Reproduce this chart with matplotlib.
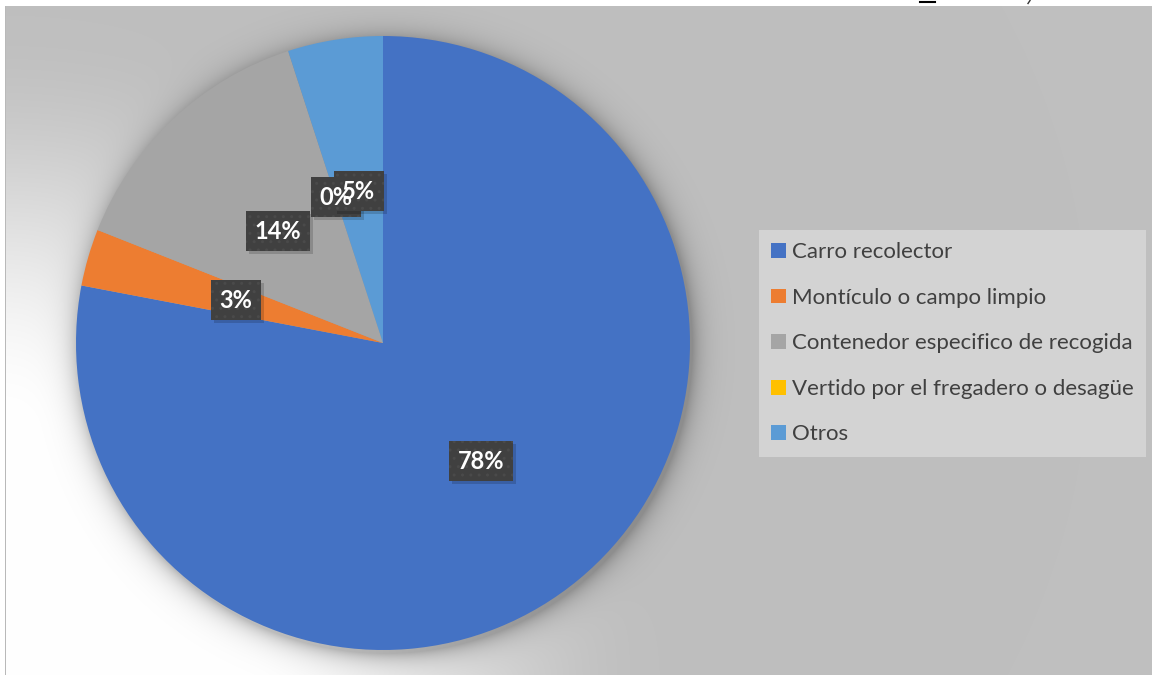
import numpy as np
import matplotlib.pyplot as plt
from matplotlib.lines import Line2D
from matplotlib.patches import Rectangle

# Destino de los residuos
categorias = ["Carro recolector", "Montículo o campo limpio",
              "Contenedor especifico de recogida",
              "Vertido por el fregadero o desagüe", "Otros"]
porcentajes = [78, 3, 14, 0, 5]
colores = ["#4472C4", "#ED7D31", "#A5A5A5", "#FFC000", "#5B9BD5"]

W, H = 1152, 675
fig = plt.figure(figsize=(W / 100, H / 100), dpi=100)
fig.patch.set_facecolor("white")

# fondo: gris con degradado radial blanco desde la esquina inferior izquierda
yy, xx = np.mgrid[0:H, 0:W].astype(float)
u = np.hypot(xx, H - yy)
t = np.clip((u - 250) / (660 - 250), 0, 1)
t = t * t * (3 - 2 * t)
val = 255 - t * (255 - 191)
# sombra difusa alrededor del pastel
cx, cy, R = 383, 343, 307
d = np.hypot(xx - cx - 2, yy - cy - 3)
sombra = np.where(d > R, 0.26 * np.exp(-(d - R) / 11.0), 0.26)
val = val * (1 - sombra)
val[:6, :] = 255
val[:, :5] = 255
val[6:, 5] = 185
img = np.dstack([val, val, val]) / 255.0

bg = fig.add_axes([0, 0, 1, 1])
bg.imshow(img, extent=(0, W, H, 0), aspect="auto", interpolation="none")
bg.set_xlim(0, W)
bg.set_ylim(H, 0)
bg.axis("off")

# restos de texto cortado en el borde superior
fig.add_artist(Line2D([920 / W, 935 / W], [1 - 1.5 / H, 1 - 1.5 / H],
                      color="black", lw=1.5))
fig.add_artist(Line2D([1030 / W, 1028 / W], [1 - 0.5 / H, 1 - 3.5 / H],
                      color="#333333", lw=1))

ax = fig.add_axes([(cx - R) / W, (H - cy - R) / H, 2 * R / W, 2 * R / H])
ax.patch.set_alpha(0)
wedges, _, autotexts = ax.pie(
    porcentajes, colors=colores, startangle=90, counterclock=False,
    autopct="%.0f%%", pctdistance=0.5,
    wedgeprops=dict(linewidth=0),
    textprops=dict(color="white", fontsize=17, fontweight="bold",
                   family="Lato"))
ax.set_xlim(-1, 1)
ax.set_ylim(-1, 1)
ax.set_aspect("equal")

# cajas oscuras (con sombra) debajo de todas las etiquetas
fig.canvas.draw()
to_data = ax.transData.inverted()
pad = 8.5
for i, at in enumerate(autotexts):
    at.set_zorder(20)
    bb = at.get_window_extent()
    (x0, y0), (x1, y1) = to_data.transform(
        [(bb.x0 - pad, bb.y0 - pad), (bb.x1 + pad, bb.y1 + pad)])
    dx, dy = to_data.transform([(3, -3)])[0] - to_data.transform([(0, 0)])[0]
    ax.add_patch(Rectangle((x0 + dx, y0 + dy), x1 - x0, y1 - y0,
                           facecolor="black", alpha=0.16, linewidth=0,
                           zorder=4 + 2 * i))
    ax.add_patch(Rectangle((x0, y0), x1 - x0, y1 - y0, facecolor="#404040",
                           edgecolor="#4a4a4a", linewidth=0, hatch="..",
                           zorder=5 + 2 * i))

leg = fig.legend(wedges, categorias, loc="upper left",
                 bbox_to_anchor=(759 / W, 1 - 230 / H),
                 prop=dict(family="Lato", size=16),
                 labelcolor="#404040", frameon=True, fancybox=False,
                 facecolor="#d3d3d3", edgecolor="none", framealpha=1,
                 handlelength=0.65, handleheight=0.65, handletextpad=0.3,
                 labelspacing=1.15, borderpad=0.55, borderaxespad=0)

fig.savefig("out.png", dpi=100)
